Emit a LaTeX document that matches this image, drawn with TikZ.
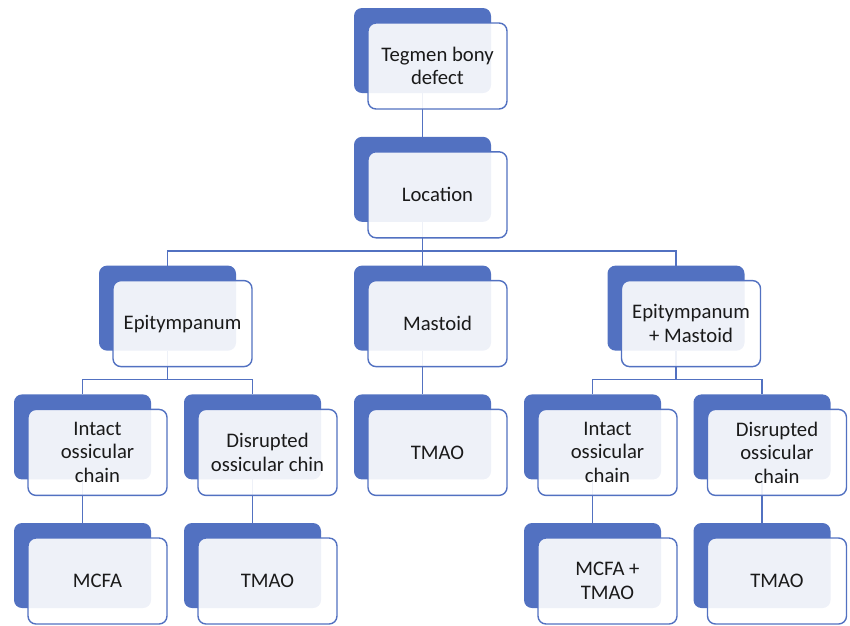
\documentclass[tikz,border=0pt]{standalone}
\usepackage{fontspec}
\setmainfont{Carlito}
\definecolor{bx}{HTML}{5271C1}
\definecolor{txt}{HTML}{1A1A1A}
\newcommand\backbox[3]{\node[back] (#1) at (#2,#3) {};}
\newcommand\frontbox[2]{\node[front] (#1f) at ([xshift=14pt,yshift=-15pt]#1.north west) {#2};}
\begin{document}
\begin{tikzpicture}[x=1pt,y=-1pt,
  back/.style={fill=bx, rounded corners=8pt, minimum width=137pt, minimum height=85pt,
    inner sep=0pt, outer sep=0pt, anchor=north west},
  front/.style={draw=bx, line width=1.4pt, fill=white, fill opacity=0.9, text opacity=1,
    rounded corners=8pt, minimum width=139pt, minimum height=86pt, inner sep=0pt,
    outer sep=0pt, anchor=north west, align=center, text=txt,
    font=\fontsize{20.7}{23.5}\selectfont},
  link/.style={draw=bx, line width=1.4pt}]
\useasboundingbox (0,0) rectangle (850,625);
% back boxes
\backbox{teg}{354}{8}
\backbox{loc}{354}{136.8}
\backbox{epi}{99}{265.6}
\backbox{mas}{354}{265.6}
\backbox{em}{607.5}{265.6}
\backbox{ioa}{14}{394.4}
\backbox{dca}{184}{394.4}
\backbox{tma}{354}{394.4}
\backbox{iob}{524}{394.4}
\backbox{dcb}{693.5}{394.4}
\backbox{mcfa}{14}{523}
\backbox{tmb}{184}{523}
\backbox{mt}{524}{523}
\backbox{tmc}{693.5}{523}
% connectors
\draw[link] (teg.south) -- (loc.north);
\draw[link] (loc.south) -- ++(0,29) coordinate (j1) -| (epi.north);
\draw[link] (j1) -| (em.north);
\draw[link] (j1) -- (mas.north);
\draw[link] (epi.south) -- ++(0,29) coordinate (j2) -| (ioa.north);
\draw[link] (j2) -| (dca.north);
\draw[link] (mas.south) -- (tma.north);
\draw[link] (em.south) -- ++(0,29) coordinate (j3) -| (iob.north);
\draw[link] (j3) -| (dcb.north);
\draw[link] (ioa.south) -- (mcfa.north);
\draw[link] (dca.south) -- (tmb.north);
\draw[link] (iob.south) -- (mt.north);
\draw[link] (dcb.south) -- (tmc.north);
% front boxes
\frontbox{teg}{Tegmen bony\\defect}
\frontbox{loc}{Location}
\frontbox{epi}{Epitympanum}
\frontbox{mas}{Mastoid}
\frontbox{em}{Epitympanum\\+ Mastoid}
\frontbox{ioa}{Intact\\ossicular\\chain}
\frontbox{dca}{Disrupted\\ossicular chin}
\frontbox{tma}{TMAO}
\frontbox{iob}{Intact\\ossicular\\chain}
\frontbox{dcb}{Disrupted\\ossicular\\chain}
\frontbox{mcfa}{MCFA}
\frontbox{tmb}{TMAO}
\frontbox{mt}{MCFA +\\TMAO}
\frontbox{tmc}{TMAO}
\end{tikzpicture}
\end{document}
